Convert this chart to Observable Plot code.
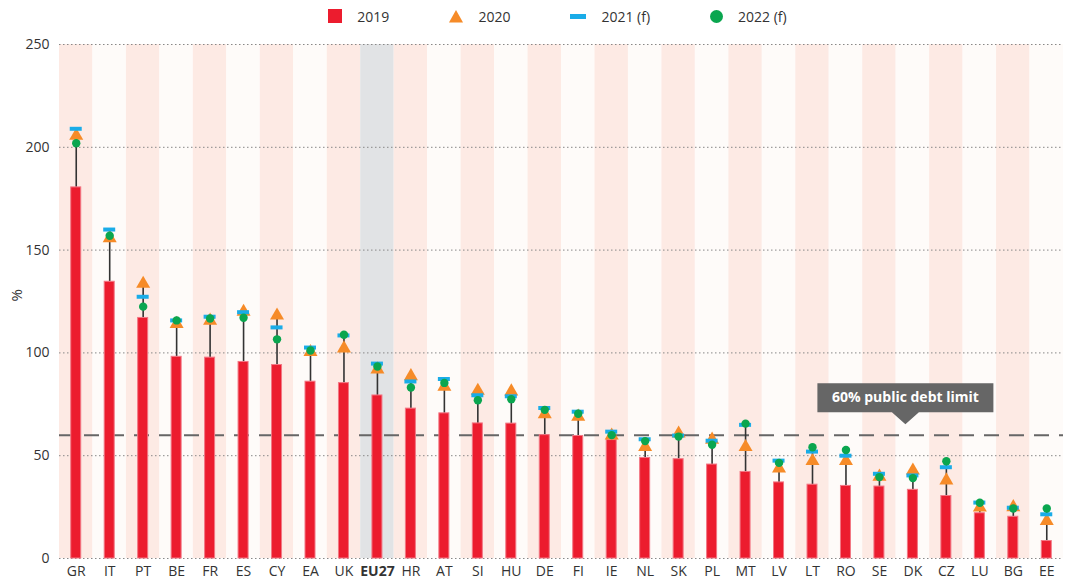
<!DOCTYPE html>
<html><head><meta charset="utf-8">
<script src="https://cdn.jsdelivr.net/npm/d3@7"></script>
<script src="https://cdn.jsdelivr.net/npm/@observablehq/plot@0.6"></script>
<style>
body{margin:0;background:#fff;font-family:"Open Sans",sans-serif;}
#legend{height:32px;display:flex;align-items:center;justify-content:center;padding-left:52px;padding-right:8px;gap:60px;font-size:14px;color:#333;box-sizing:border-box;width:1071px;}
.item{display:flex;align-items:center;gap:15px}
.item svg{display:block}
#chart svg{display:block}
</style></head><body>
<div id="legend"></div>
<div id="chart"></div>
<script>
// ---- data ----
const countries = ["GR","IT","PT","BE","FR","ES","CY","EA","UK","EU27","HR","AT","SI","HU","DE","FI","IE","NL","SK","PL","MT","LV","LT","RO","SE","DK","CZ","LU","BG","EE"];
const y2019 = [180.5,134.6,117.0,98.1,97.7,95.6,94.1,86.0,85.3,79.3,72.9,70.6,65.7,65.6,60.0,59.6,57.6,48.9,48.3,45.7,42.1,37.0,35.9,35.3,35.0,33.4,30.4,22.0,20.3,8.5];
const y2020 = [205.6,155.8,133.6,114.1,115.7,120.0,118.2,100.4,102.2,92.0,88.7,83.6,81.6,81.3,70.2,69.0,59.8,54.3,60.8,57.8,54.2,43.8,47.4,47.4,39.8,42.8,38.0,24.8,25.0,18.2];
const y2021 = [209.0,160.0,127.3,115.8,117.6,119.8,112.4,102.6,108.5,94.8,86.1,87.3,79.4,78.9,73.2,71.4,61.7,58.0,59.8,57.3,65.0,47.6,52.0,50.0,41.2,40.4,44.4,27.2,24.7,21.5];
const y2022 = [202.0,157.0,122.5,115.8,116.7,117.1,106.6,101.2,108.8,93.4,83.2,85.4,77.0,77.5,72.3,70.4,60.0,57.1,59.3,55.3,65.6,46.5,54.1,52.8,39.6,39.1,47.3,27.1,24.3,24.3];
const yTicks = [0,50,100,150,200,250];
const yLabel = "%";
const debtLimit = 60;
const highlight = "EU27";
const calloutCountry = "DK";
const calloutText = "60% public debt limit";
const seriesNames = ["2019","2020","2021 (f)","2022 (f)"];
const seriesColors = ["#ec1c2e","#f68b28","#1aace8","#0aa64f"];

// ---- legend ----
const swatches = [
  `<svg width="14" height="14"><rect width="14" height="14" fill="${seriesColors[0]}"/></svg>`,
  `<svg width="14" height="13"><path d="M7,0L14,12.5L0,12.5Z" fill="${seriesColors[1]}"/></svg>`,
  `<svg width="16" height="5"><rect width="16" height="5" fill="${seriesColors[2]}"/></svg>`,
  `<svg width="13" height="13"><circle cx="6.5" cy="6.5" r="6.5" fill="${seriesColors[3]}"/></svg>`
];
document.getElementById("legend").innerHTML = seriesNames.map((n,i)=>`<div class="item">${swatches[i]}<span>${n}</span></div>`).join("");

// ---- chart ----
const W = 1071, H = 554, mL = 59, mR = 8;
const rows = countries.map((c,i)=>({c, i, v19:y2019[i], v20:y2020[i], v21:y2021[i], v22:y2022[i], top:Math.max(y2020[i],y2021[i],y2022[i])}));
const band = (W-mL-mR)/countries.length;
const barInset = (band-10)/2;
const dashInset = (band-12)/2;

const callout = {
  draw(ctx){
    ctx.moveTo(0,0); ctx.lineTo(13.5,-12); ctx.lineTo(88,-12); ctx.lineTo(88,-41);
    ctx.lineTo(-88,-41); ctx.lineTo(-88,-12); ctx.lineTo(-13.5,-12); ctx.closePath();
  }
};
const calloutData = [{c:calloutCountry, v:debtLimit, t:calloutText}];

const chart = Plot.plot({
  width: W, height: H, marginTop: 12, marginBottom: 28, marginLeft: mL, marginRight: mR,
  style: {fontFamily:"Open Sans, sans-serif", fontSize:"14px", color:"#333", background:"transparent"},
  x: {domain: countries, padding: 0, round: false, axis: null},
  y: {domain: [0,250], axis: null},
  color: {type: "identity"},
  marks: [
    Plot.cell(rows, {x:"c", fill: d => d.c===highlight ? "#e1e3e5" : (d.i%2===0 ? "#fdeae4" : "#fefbf9")}),
    Plot.ruleY(yTicks, {stroke:"#888", strokeWidth:1, strokeDasharray:"1.5,2.5"}),
    Plot.ruleY([debtLimit], {stroke:"#666", strokeWidth:2, strokeDasharray:"15,10"}),
    Plot.ruleX(rows, {x:"c", y1:"v19", y2:"top", stroke:"#333", strokeWidth:1.6}),
    Plot.barY(rows, {x:"c", y:"v19", fill:seriesColors[0], stroke:"#f27784", strokeWidth:1, insetLeft:barInset, insetRight:barInset}),
    Plot.dot(rows, {x:"c", y:"v20", symbol:"triangle", r:5.2, fill:seriesColors[1]}),
    Plot.tickY(rows, {x:"c", y:"v21", stroke:seriesColors[2], strokeWidth:4, insetLeft:dashInset, insetRight:dashInset}),
    Plot.dot(rows, {x:"c", y:"v22", r:4.2, fill:seriesColors[3]}),
    Plot.dot(calloutData, {x:"c", y:"v", symbol:callout, fill:"#666", dx:-7.5, dy:-11}),
    Plot.text(calloutData, {x:"c", y:"v", text:"t", fill:"white", fontWeight:"bold", fontSize:14, dx:-7.5, dy:-37.5}),
    Plot.axisY({ticks:yTicks, tickSize:0, tickPadding:10, fontSize:14, label:null}),
    Plot.text([yLabel], {text:d=>d, frameAnchor:"left", rotate:-90, dx:-42, fontSize:15, fill:"#333"}),
    Plot.axisX(countries.filter(c=>c!==highlight), {tickSize:0, tickPadding:8, fontSize:14, label:null}),
    Plot.axisX([highlight], {tickSize:0, tickPadding:8, fontSize:14, fontWeight:"bold", label:null})
  ]
});
document.getElementById("chart").appendChild(chart);
</script>
</body></html>
